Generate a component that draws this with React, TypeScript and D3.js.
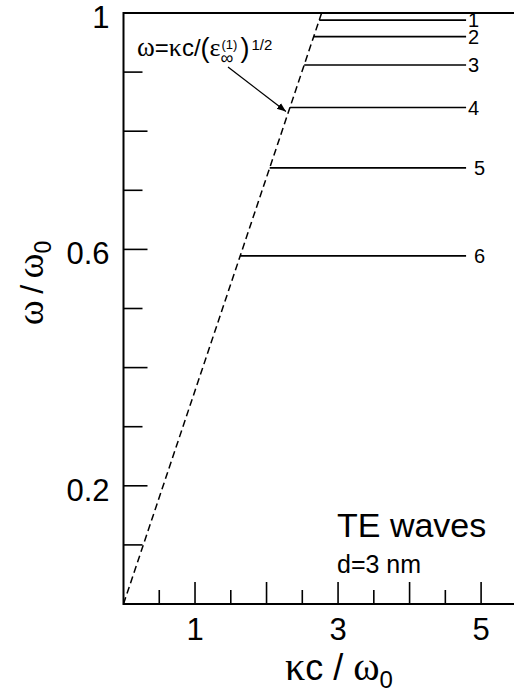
import { useRef, useEffect } from "react";
import * as d3 from "d3";

// mode levels (omega / omega0)
const modeLabels = ["1", "2", "3", "4", "5", "6"];
const modeOmega = [0.988, 0.96, 0.912, 0.84, 0.738, 0.589];
const modeEndKc = 4.79;
// light line: omega = kc / sqrt(eps) -> kc at omega = 1
const lightKc = [0, 2.77];
const lightOmega = [0, 1];

const xMajorTicks = [1, 2, 3, 4, 5];
const xMinorTicks = [0.5, 1.5, 2.5, 3.5, 4.5];
const xTickLabels = [1, 3, 5];
const yMajorTicks = [0.2, 0.4, 0.6, 0.8];
const yMinorTicks = [0.1, 0.3, 0.5, 0.7, 0.9];
const yTickLabels = [0.2, 0.6, 1];

const SANS = "'Liberation Sans', Arial, Helvetica, sans-serif";
const SERIF = "'Liberation Serif', 'DejaVu Serif', serif";

const App = () => {
  const svgRef = useRef<SVGSVGElement>(null);

  useEffect(() => {
    const w = 514;
    const h = 696;
    const svg = d3.select(svgRef.current);
    svg.selectAll("*").remove();
    svg.attr("width", w).attr("height", h).style("background", "#fff");

    const left = 123.5;
    const bottom = 604;
    const top = 13;
    const x = d3.scaleLinear().domain([0, 5.46]).range([left, w]);
    const y = d3.scaleLinear().domain([0, 1]).range([bottom, top]);

    const g = svg.append("g");

    // frame (right side is cut off in the original)
    g.append("path")
      .attr("d", `M${w},${top}H${left}V${bottom}H${w}`)
      .attr("fill", "none")
      .attr("stroke", "#000")
      .attr("stroke-width", 2);

    // x ticks, pointing inward
    const xTick = (vals: number[], len: number) =>
      g.append("g")
        .selectAll("line")
        .data(vals)
        .join("line")
        .attr("x1", (d) => x(d))
        .attr("x2", (d) => x(d))
        .attr("y1", bottom)
        .attr("y2", bottom - len)
        .attr("stroke", "#000")
        .attr("stroke-width", 1.6);
    xTick(xMajorTicks, 22);
    xTick(xMinorTicks, 14);

    const yTick = (vals: number[], len: number) =>
      g.append("g")
        .selectAll("line")
        .data(vals)
        .join("line")
        .attr("x1", left)
        .attr("x2", left + len)
        .attr("y1", (d) => y(d))
        .attr("y2", (d) => y(d))
        .attr("stroke", "#000")
        .attr("stroke-width", 1.6);
    yTick(yMajorTicks, 24);
    yTick(yMinorTicks, 19);

    // tick labels
    g.append("g")
      .selectAll("text")
      .data(xTickLabels)
      .join("text")
      .attr("x", (d) => x(d))
      .attr("y", 640)
      .attr("text-anchor", "middle")
      .attr("font-family", SANS)
      .attr("font-size", 31)
      .text((d) => d);

    g.append("g")
      .selectAll("text")
      .data(yTickLabels)
      .join("text")
      .attr("x", left - 14)
      .attr("y", (d) => y(d) + 15)
      .attr("text-anchor", "end")
      .attr("font-family", SANS)
      .attr("font-size", 31)
      .text((d) => d);

    // light line (dashed)
    const line = d3
      .line<number>()
      .x((d) => x(d))
      .y((d, i) => y(lightOmega[i]));
    g.append("path")
      .datum(lightKc)
      .attr("d", line)
      .attr("fill", "none")
      .attr("stroke", "#000")
      .attr("stroke-width", 1.5)
      .attr("stroke-dasharray", "7,4");

    // mode lines start on the light line
    const slope = lightKc[1] / lightOmega[1];
    g.append("g")
      .selectAll("line")
      .data(modeOmega)
      .join("line")
      .attr("x1", (d) => x(d * slope))
      .attr("x2", x(modeEndKc))
      .attr("y1", (d) => y(d))
      .attr("y2", (d) => y(d))
      .attr("stroke", "#000")
      .attr("stroke-width", 1.6);

    g.append("g")
      .selectAll("text")
      .data(modeOmega)
      .join("text")
      .attr("x", (d, i) => x(modeEndKc) + (i < 4 ? 2 : 8))
      .attr("y", (d) => y(d) + 7)
      .attr("font-family", SANS)
      .attr("font-size", 20)
      .text((d, i) => modeLabels[i]);

    // annotation  omega = kc/(eps_inf^(1))^(1/2)
    const ann = g.append("text")
      .attr("x", 137)
      .attr("y", 56)
      .attr("font-family", SANS)
      .attr("font-size", 24);
    ann.append("tspan").attr("font-family", SERIF).attr("font-size", 27).text("ω");
    ann.append("tspan").text("=");
    ann.append("tspan").attr("font-family", SERIF).attr("font-size", 26).text("κ");
    ann.append("tspan").text("c/");
    ann.append("tspan").attr("font-size", 27).attr("dy", 1).text("(");
    ann.append("tspan").attr("font-family", SERIF).attr("font-size", 26).attr("dy", -1).text("ε");
    const annEnd = 137 + (ann.node() as SVGTextElement).getComputedTextLength();
    g.append("text")
      .attr("x", annEnd + 1)
      .attr("y", 49)
      .attr("font-family", SANS)
      .attr("font-size", 13)
      .text("(1)");
    g.append("text")
      .attr("x", annEnd)
      .attr("y", 64)
      .attr("font-family", SANS)
      .attr("font-size", 18)
      .text("∞");
    g.append("text")
      .attr("x", annEnd + 20)
      .attr("y", 57)
      .attr("font-family", SANS)
      .attr("font-size", 27)
      .text(")");
    g.append("text")
      .attr("x", annEnd + 31)
      .attr("y", 50)
      .attr("font-family", SANS)
      .attr("font-size", 15)
      .text("1/2");

    svg.append("defs")
      .append("marker")
      .attr("id", "ah")
      .attr("viewBox", "0 0 10 10")
      .attr("refX", 10)
      .attr("refY", 5)
      .attr("markerWidth", 9)
      .attr("markerHeight", 9)
      .attr("markerUnits", "userSpaceOnUse")
      .attr("orient", "auto")
      .append("path")
      .attr("d", "M0,1L10,5L0,9Z")
      .attr("fill", "#000");
    g.append("line")
      .attr("x1", 228)
      .attr("y1", 67)
      .attr("x2", x(0.83 * slope) - 2)
      .attr("y2", y(0.83) - 2)
      .attr("stroke", "#000")
      .attr("stroke-width", 1.3)
      .attr("marker-end", "url(#ah)");

    // labels
    g.append("text")
      .attr("x", 337)
      .attr("y", 537)
      .attr("font-family", SANS)
      .attr("font-size", 34)
      .text("TE waves");
    g.append("text")
      .attr("x", 337)
      .attr("y", 573)
      .attr("font-family", SANS)
      .attr("font-size", 25)
      .text("d=3 nm");

    // axis titles
    const xt = g.append("text")
      .attr("x", 285)
      .attr("y", 680)
      .attr("font-family", SANS)
      .attr("font-size", 36);
    xt.append("tspan").attr("font-family", SERIF).attr("font-size", 40).text("κ");
    xt.append("tspan").text("c / ");
    xt.append("tspan").attr("font-family", SERIF).attr("font-size", 40).text("ω");
    xt.append("tspan").attr("font-size", 24).attr("dy", 8).text("0");

    const yt = g.append("text")
      .attr("transform", "translate(43,283) rotate(-90)")
      .attr("text-anchor", "middle")
      .attr("font-family", SANS)
      .attr("font-size", 32);
    yt.append("tspan").attr("font-family", SERIF).attr("font-size", 38).text("ω");
    yt.append("tspan").text("\u2009/\u2009");
    yt.append("tspan").attr("font-family", SERIF).attr("font-size", 38).text("ω");
    yt.append("tspan").attr("font-size", 23).attr("dy", 8).text("0");
  }, []);

  return (
    <svg
      ref={svgRef}
      style={{ position: "absolute", left: 0, top: 0, display: "block" }}
    ></svg>
  );
};

export default App;
